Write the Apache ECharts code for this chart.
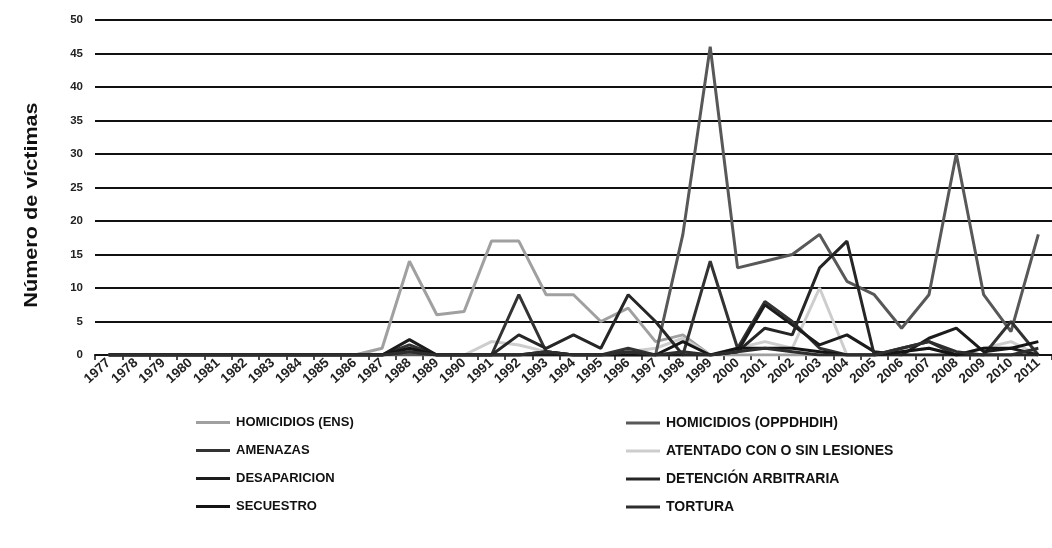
<!DOCTYPE html>
<html>
<head>
<meta charset="utf-8">
<script src="https://cdn.jsdelivr.net/npm/echarts@6/dist/echarts.min.js"></script>
<style>
  html, body { margin: 0; padding: 0; background: #fff; }
  #main { width: 1052px; height: 548px; }
</style>
</head>
<body>
<div id="main"></div>
<script>
// años
const years = ['1977', '1978', '1979', '1980', '1981', '1982', '1983', '1984', '1985', '1986',
  '1987', '1988', '1989', '1990', '1991', '1992', '1993', '1994', '1995', '1996',
  '1997', '1998', '1999', '2000', '2001', '2002', '2003', '2004', '2005', '2006',
  '2007', '2008', '2009', '2010', '2011'];

// valores (1977 -> 2011)
const homicidiosEns = [0, 0, 0, 0, 0, 0, 0, 0, 0, 0,
  1, 14, 6, 6.5, 17, 17, 9, 9, 5, 7, 2, 3,
  0, 0, 0, 0, 0, 0, 0, 0, 0, 0, 0, 0, 0];
const homicidiosOpp = [0, 0, 0, 0, 0, 0, 0, 0, 0, 0, 0, 0, 0, 0, 0, 0, 0, 0, 0, 0, 0,
  18, 46, 13, 14, 15, 18, 11, 9, 4, 9, 30, 9, 3.5, 18];
const amenazas = [0, 0, 0, 0, 0, 0, 0, 0, 0, 0, 0,
  1.5, 0, 0, 0, 9, 0.5, 0, 0, 1, 0, 0, 14, 1, 8, 5, 1, 0, 0, 1, 2, 0, 0, 5, 0];
const atentado = [0, 0, 0, 0, 0, 0, 0, 0, 0, 0, 0,
  1, 0, 0, 2, 1.5, 0.5, 0, 0, 0.5, 1, 2.5, 0, 1, 2, 1, 10, 0, 0, 0.5, 1, 0, 1, 2, 0];
const desaparicion = [0, 0, 0, 0, 0, 0, 0, 0, 0, 0, 0,
  2.3, 0, 0, 0, 0, 0, 0, 0, 0, 0, 0, 0, 0.5, 7.5, 4.5, 1.5, 3, 0.5, 0, 2.5, 4, 0.5, 1, 0];
const detencion = [0, 0, 0, 0, 0, 0, 0, 0, 0, 0, 0,
  0.5, 0, 0, 0, 3, 1, 3, 1, 9, 5, 0, 0, 0.5, 4, 3, 13, 17, 0, 0, 0, 0, 0, 0, 0];
const secuestro = [0, 0, 0, 0, 0, 0, 0, 0, 0, 0, 0,
  1, 0, 0, 0, 0, 0.5, 0, 0, 0, 0, 2, 0, 1, 1, 1, 0.5, 0, 0, 0.5, 1, 0, 1, 1, 2];
const tortura = [0, 0, 0, 0, 0, 0, 0, 0, 0, 0, 0,
  0.5, 0, 0, 0, 0, 0.5, 0, 0, 0.5, 0, 0.5, 0, 0.5, 1, 0.5, 0, 0, 0, 1, 2, 0.5, 0, 0, 1];

const yTicks = { min: 0, max: 50, step: 5 };

const FONT = 'Liberation Sans, Arial, sans-serif';

function serie(name, data, color, width) {
  return {
    name: name,
    type: 'line',
    data: data,
    symbol: 'none',
    color: color,
    lineStyle: { color: color, width: width || 3 },
    emphasis: { disabled: true }
  };
}

const chart = echarts.init(document.getElementById('main'));
// solo una linea como muestra de la leyenda
const lineIcon = 'path://M0,0 L34,0 L34,3 L0,3 Z';

const option = {
  backgroundColor: '#fff',
  animation: false,
  grid: { left: 95, top: 20, width: 962, height: 335 },
  legend: [
    {
      orient: 'vertical', left: 191, top: 411, icon: lineIcon, itemWidth: 36, itemHeight: 3, itemGap: 15,
      textStyle: { fontFamily: FONT, fontWeight: 'bold', fontSize: 13, color: '#111' },
      data: ['HOMICIDIOS (ENS)', 'AMENAZAS', 'DESAPARICION', 'SECUESTRO']
    },
    {
      orient: 'vertical', left: 621, top: 411, icon: lineIcon, itemWidth: 36, itemHeight: 3, itemGap: 14,
      textStyle: { fontFamily: FONT, fontWeight: 'bold', fontSize: 14, color: '#111' },
      data: ['HOMICIDIOS (OPPDHDIH)', 'ATENTADO CON O SIN LESIONES', 'DETENCIÓN ARBITRARIA', 'TORTURA']
    }
  ],
  graphic: [{
    type: 'text',
    x: 32, y: 205,
    rotation: Math.PI / 2,
    scaleX: 1.2,
    style: {
      text: 'Número de víctimas',
      font: 'bold 18px ' + FONT,
      fill: '#111',
      align: 'center',
      verticalAlign: 'middle'
    }
  }],
  xAxis: {
    type: 'category',
    data: years,
    boundaryGap: true,
    axisLine: { lineStyle: { color: '#111', width: 2 } },
    axisTick: { show: true, length: 5, lineStyle: { color: '#111', width: 1.5 } },
    axisLabel: { rotate: 42, fontFamily: FONT, fontSize: 13.5, fontWeight: 'bold', color: '#222', margin: 6, interval: 0 }
  },
  yAxis: {
    type: 'value',
    min: yTicks.min, max: yTicks.max, interval: yTicks.step,
    axisLine: { show: false },
    axisTick: { show: false },
    axisLabel: { fontFamily: FONT, fontSize: 11.5, fontWeight: 'bold', color: '#222', margin: 12 },
    splitLine: { lineStyle: { color: '#111', width: 2 } }
  },
  series: [
    serie('HOMICIDIOS (ENS)', homicidiosEns, '#a0a0a0'),
    serie('ATENTADO CON O SIN LESIONES', atentado, '#cdcdcd'),
    serie('HOMICIDIOS (OPPDHDIH)', homicidiosOpp, '#585858'),
    serie('AMENAZAS', amenazas, '#333333'),
    serie('DESAPARICION', desaparicion, '#1c1c1c'),
    serie('DETENCIÓN ARBITRARIA', detencion, '#262626'),
    serie('SECUESTRO', secuestro, '#141414'),
    serie('TORTURA', tortura, '#2e2e2e')
  ]
};

chart.setOption(option);
</script>
</body>
</html>
